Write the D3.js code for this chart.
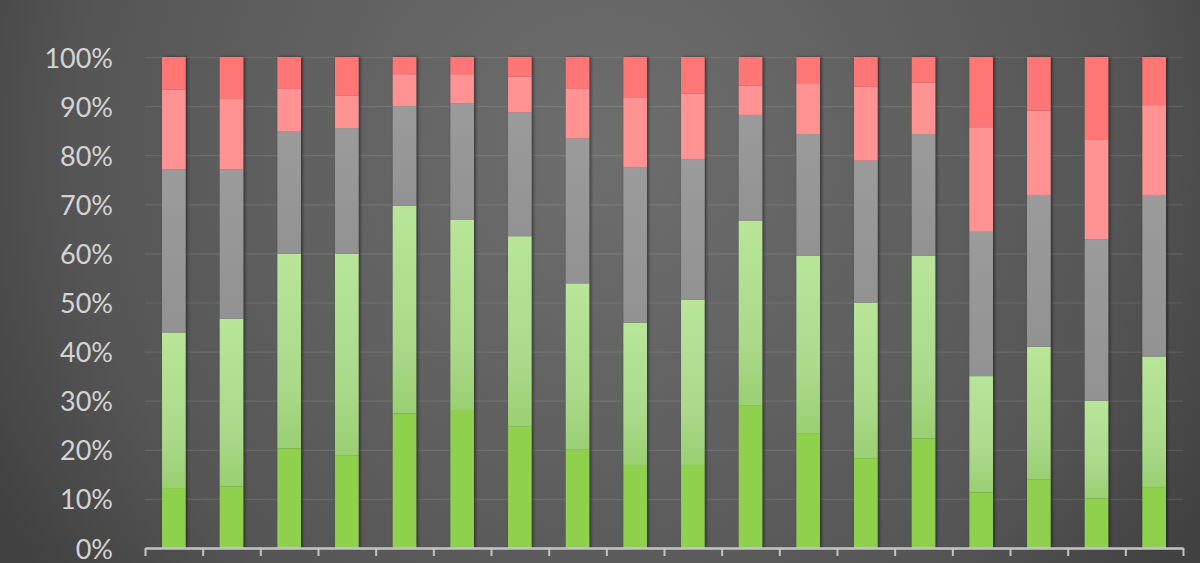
<!DOCTYPE html>
<html>
<head>
<meta charset="utf-8">
<script src="https://cdn.jsdelivr.net/npm/d3@7"></script>
<style>
  html, body { margin: 0; padding: 0; background: #4a4a4a; overflow: hidden; }
  svg { display: block; }
</style>
</head>
<body>
<svg id="chart" width="1200" height="563"></svg>
<script>
// ---- data (percent of each bar) ----
const categories = ["1","2","3","4","5","6","7","8","9","10","11","12","13","14","15","16","17","18"];
const seriesNames = ["Bright green","Light green","Gray","Light red","Red"];
const brightGreen = [12.2,12.5,20.3,18.9,27.4,28.1,24.7,20.0,16.9,16.9,29.1,23.4,18.3,22.3,11.3,14.0,10.1,12.4];
const lightGreen  = [31.7,34.2,39.6,41.0,42.3,38.8,38.8,33.9,29.0,33.7,37.5,36.1,31.7,37.2,23.7,27.0,19.9,26.6];
const gray        = [33.2,30.4,24.9,25.6,20.3,23.7,25.2,29.5,31.6,28.6,21.6,24.8,28.9,24.8,29.4,30.9,32.9,32.9];
const lightRed    = [16.3,14.5,8.7,6.6,6.5,5.9,7.3,10.1,14.3,13.3,6.0,10.2,15.1,10.5,21.3,17.2,20.2,18.3];
const red         = [6.6,8.4,6.5,7.9,3.5,3.5,4.0,6.5,8.2,7.5,5.8,5.5,6.0,5.2,14.3,10.9,16.9,9.8];
const yTicks = [0,0.1,0.2,0.3,0.4,0.5,0.6,0.7,0.8,0.9,1.0];

const seriesValues = [brightGreen, lightGreen, gray, lightRed, red];
const rows = categories.map((c, i) => {
  const r = { cat: c };
  seriesNames.forEach((s, k) => r[s] = seriesValues[k][i]);
  return r;
});

const W = 1200, H = 563;
const svg = d3.select("#chart");
const defs = svg.append("defs");

// background radial gradient
const bg = defs.append("radialGradient").attr("id", "bg")
  .attr("gradientUnits", "userSpaceOnUse")
  .attr("cx", 600).attr("cy", 150).attr("r", 700);
bg.append("stop").attr("offset", "0%").attr("stop-color", "#6e6e6e");
bg.append("stop").attr("offset", "50%").attr("stop-color", "#5e5e5e");
bg.append("stop").attr("offset", "75%").attr("stop-color", "#555555");
bg.append("stop").attr("offset", "100%").attr("stop-color", "#414141");
svg.append("rect").attr("width", W).attr("height", H).attr("fill", "url(#bg)");

// light green gradient
const lg = defs.append("linearGradient").attr("id", "lg")
  .attr("x1", 0).attr("y1", 1).attr("x2", 0).attr("y2", 0);
lg.append("stop").attr("offset", "0%").attr("stop-color", "#9acf72");
lg.append("stop").attr("offset", "35%").attr("stop-color", "#abda8b");
lg.append("stop").attr("offset", "100%").attr("stop-color", "#b8e598");

const gg = defs.append("linearGradient").attr("id", "gg")
  .attr("x1", 0).attr("y1", 1).attr("x2", 0).attr("y2", 0);
gg.append("stop").attr("offset", "0%").attr("stop-color", "#929292");
gg.append("stop").attr("offset", "100%").attr("stop-color", "#9b9b9b");

const shadow = defs.append("filter").attr("id", "sh")
  .attr("x", "-30%").attr("y", "-5%").attr("width", "160%").attr("height", "110%");
shadow.append("feDropShadow").attr("dx", 1.5).attr("dy", 0)
  .attr("stdDeviation", 1.5).attr("flood-color", "#000").attr("flood-opacity", 0.5);

const fills = {
  "Bright green": "#8fd14d",
  "Light green": "url(#lg)",
  "Gray": "url(#gg)",
  "Light red": "#ff9292",
  "Red": "#ff7676"
};

const x0 = 145, x1 = 1183, yBottom = 548, yTop = 57;
const x = d3.scaleBand().domain(categories).range([x0, x1])
  .paddingInner(0.59).paddingOuter(0.295);
const y = d3.scaleLinear().domain([0, 1]).range([yBottom, yTop]);

// gridlines
svg.append("g").selectAll("line").data(yTicks.filter(t => t > 0)).join("line")
  .attr("x1", x0).attr("x2", x1)
  .attr("y1", d => y(d) + 0.5).attr("y2", d => y(d) + 0.5)
  .attr("stroke", "#ffffff").attr("stroke-opacity", 0.1).attr("stroke-width", 1.2);

// y labels
svg.append("g").selectAll("text").data(yTicks).join("text")
  .attr("x", 113).attr("y", d => y(d))
  .attr("text-anchor", "end").attr("dominant-baseline", "central")
  .attr("font-family", "Lato, 'Open Sans', sans-serif")
  .attr("font-size", 27).attr("fill", "#d4d4d4")
  .text(d => d3.format(".0%")(d));

// stacked bars
const stack = d3.stack().keys(seriesNames).value((r, k) => r[k] / 100);
const layers = stack(rows);

const barsG = svg.append("g");
barsG.selectAll("rect.base").data(rows).join("rect").attr("class", "base")
  .attr("x", d => x(d.cat)).attr("width", x.bandwidth())
  .attr("y", y(1)).attr("height", y(0) - y(1))
  .attr("fill", "#555").attr("filter", "url(#sh)");

barsG.selectAll("g.layer").data(layers).join("g").attr("class", "layer")
  .attr("fill", d => fills[d.key])
  .selectAll("rect").data(d => d).join("rect")
  .attr("x", d => x(d.data.cat))
  .attr("width", x.bandwidth())
  .attr("y", d => y(d[1]))
  .attr("height", d => y(d[0]) - y(d[1]));

// x axis with ticks at band boundaries
const xb = d3.scaleLinear().domain([0, categories.length]).range([x0, x1]);
const axis = svg.append("g").attr("transform", `translate(0,${yBottom})`)
  .call(d3.axisBottom(xb).tickValues(d3.range(categories.length + 1))
    .tickFormat("").tickSize(8).tickSizeOuter(0));
axis.select(".domain").attr("stroke", "#c4c4c4").attr("stroke-width", 2.5);
axis.selectAll(".tick line").attr("stroke", "#c4c4c4").attr("stroke-width", 2);
</script>
</body>
</html>
